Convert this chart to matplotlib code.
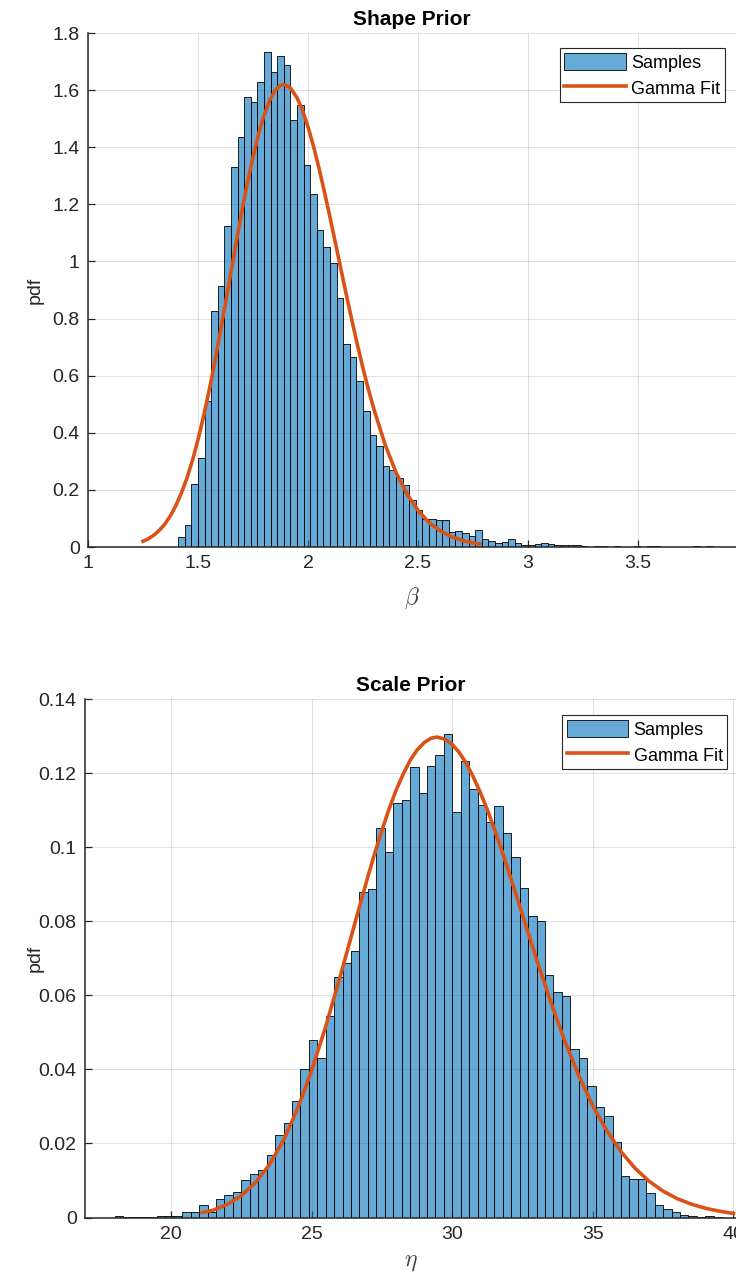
import numpy as np
import matplotlib
matplotlib.use('Agg')
import matplotlib.pyplot as plt
from matplotlib.ticker import FuncFormatter

plt.rcParams['font.family'] = ['Liberation Sans', 'DejaVu Sans']
plt.rcParams['mathtext.fontset'] = 'cm'

# Shape prior histogram (bin width 0.03, first edge 1.41)
shape_first_edge = 1.41
shape_bin_width = 0.03
shape_pdf = [0.034, 0.078, 0.220, 0.312, 0.510, 0.826, 0.914, 1.125, 1.331, 1.435,
             1.575, 1.558, 1.630, 1.735, 1.663, 1.720, 1.688, 1.494, 1.548, 1.338,
             1.236, 1.111, 1.050, 0.994, 0.873, 0.710, 0.664, 0.580, 0.475, 0.393,
             0.355, 0.285, 0.269, 0.242, 0.218, 0.165, 0.131, 0.099, 0.097, 0.093,
             0.093, 0.051, 0.055, 0.050, 0.040, 0.061, 0.029, 0.021, 0.015, 0.019,
             0.028, 0.014, 0.006, 0.007, 0.009, 0.013, 0.009, 0.006, 0.006, 0.008,
             0.008, 0.002, 0.001, 0.005, 0.002, 0.001, 0.002, 0.001, 0.001, 0.002,
             0.001, 0.005, 0.002, 0.001, 0.001, 0.001, 0.001, 0.001, 0.002, 0.001,
             0.002]

# Gamma fit curve for the shape
shape_fit_x = [1.25, 1.275, 1.30, 1.325, 1.35, 1.375, 1.40, 1.425, 1.45, 1.475,
               1.50, 1.525, 1.55, 1.575, 1.60, 1.625, 1.65, 1.675, 1.70, 1.725,
               1.75, 1.775, 1.80, 1.825, 1.85, 1.87, 1.89, 1.92, 1.95, 1.975,
               2.00, 2.025, 2.05, 2.075, 2.10, 2.125, 2.15, 2.175, 2.20, 2.225,
               2.25, 2.275, 2.30, 2.35, 2.40, 2.45, 2.50, 2.55, 2.60, 2.65,
               2.70, 2.75, 2.78]
shape_fit_y = [0.020, 0.029, 0.042, 0.059, 0.081, 0.110, 0.146, 0.190, 0.242, 0.304,
               0.376, 0.457, 0.546, 0.643, 0.748, 0.854, 0.964, 1.071, 1.178, 1.276,
               1.366, 1.446, 1.512, 1.563, 1.598, 1.615, 1.620, 1.608, 1.573, 1.529,
               1.471, 1.403, 1.326, 1.242, 1.154, 1.063, 0.971, 0.880, 0.792, 0.706,
               0.625, 0.550, 0.481, 0.359, 0.261, 0.185, 0.128, 0.086, 0.057, 0.037,
               0.023, 0.014, 0.011]

# Scale prior histogram (bin width 0.3, first edge 18.0)
scale_first_edge = 18.0
scale_bin_width = 0.3
scale_pdf = [0.0004, 0.0001, 0.0001, 0.0001, 0.0001, 0.0004, 0.0005, 0.0005, 0.0014, 0.0016,
             0.0035, 0.0016, 0.0050, 0.0060, 0.0068, 0.0100, 0.0117, 0.0129, 0.0170, 0.0222,
             0.0255, 0.0315, 0.0400, 0.0480, 0.0431, 0.0545, 0.0649, 0.0688, 0.0719, 0.0880,
             0.0887, 0.1051, 0.0987, 0.1120, 0.1127, 0.1217, 0.1147, 0.1219, 0.1249, 0.1305,
             0.1095, 0.1232, 0.1159, 0.1114, 0.1069, 0.1113, 0.1040, 0.0974, 0.0891, 0.0814,
             0.0802, 0.0654, 0.0608, 0.0598, 0.0455, 0.0430, 0.0355, 0.0298, 0.0273, 0.0205,
             0.0112, 0.0104, 0.0104, 0.0065, 0.0035, 0.0022, 0.0015, 0.0008, 0.0004, 0.0001,
             0.0003, 0.0001]

scale_fit_x = [21.1, 21.5, 22.0, 22.5, 23.0, 23.5, 24.0, 24.5, 25.0, 25.5,
               26.0, 26.5, 27.0, 27.25, 27.5, 27.75, 28.0, 28.25, 28.5, 28.75,
               29.0, 29.25, 29.46, 29.75, 30.0, 30.25, 30.5, 30.75, 31.0, 31.25,
               31.5, 31.75, 32.0, 32.5, 33.0, 33.5, 34.0, 34.5, 35.0, 35.5,
               36.0, 36.5, 37.0, 37.5, 38.0, 38.5, 39.0, 39.5, 40.0]
scale_fit_y = [0.0013, 0.0020, 0.0035, 0.0059, 0.0094, 0.0143, 0.0209, 0.0294, 0.0397, 0.0516,
               0.0647, 0.0785, 0.0921, 0.0986, 0.1046, 0.1103, 0.1154, 0.1197, 0.1235, 0.1263,
               0.1283, 0.1295, 0.1298, 0.1292, 0.1278, 0.1256, 0.1227, 0.1190, 0.1148, 0.1101,
               0.1049, 0.0994, 0.0936, 0.0817, 0.0697, 0.0583, 0.0477, 0.0383, 0.0301, 0.0234,
               0.0178, 0.0133, 0.0098, 0.0071, 0.0051, 0.0036, 0.0025, 0.0017, 0.0011]

bar_face = (0.0, 0.447, 0.741, 0.6)
fit_color = '#D95319'
axis_color = '#262626'


def style_axes(ax, xlim, ylim, xticks, yticks):
    ax.set_xlim(*xlim)
    ax.set_ylim(*ylim)
    ax.set_xticks(xticks)
    ax.set_yticks(yticks)
    fmt = FuncFormatter(lambda v, p: '%g' % round(v, 6))
    ax.xaxis.set_major_formatter(fmt)
    ax.yaxis.set_major_formatter(fmt)
    ax.spines['top'].set_visible(False)
    ax.spines['right'].set_visible(False)
    for s in ('left', 'bottom'):
        ax.spines[s].set_color(axis_color)
        ax.spines[s].set_linewidth(1.1)
    ax.tick_params(direction='in', length=5, width=0.9, colors=axis_color,
                   labelsize=14, pad=6)
    ax.grid(True, color=axis_color, alpha=0.15, linewidth=0.7)
    ax.set_axisbelow(True)


def draw_panel(ax, first_edge, width, pdf, fit_x, fit_y, legend_anchor):
    lefts = first_edge + width * np.arange(len(pdf))
    bars = ax.bar(lefts, pdf, width=width, align='edge', color=bar_face,
                  edgecolor='black', linewidth=0.6)
    line, = ax.plot(fit_x, fit_y, color=fit_color, linewidth=2.6)
    leg = ax.legend([bars, line], ['Samples', 'Gamma Fit'], loc='upper right',
                    bbox_to_anchor=legend_anchor, borderaxespad=0,
                    fontsize=13, fancybox=False, framealpha=1, edgecolor=axis_color,
                    handlelength=3.4, handleheight=1.15, borderpad=0.25,
                    labelspacing=0.4, handletextpad=0.3)
    leg.get_frame().set_linewidth(0.8)


fig = plt.figure(figsize=(7.36, 12.8), dpi=100)

ax1 = fig.add_axes([88 / 736, 1 - 547 / 1280, 648 / 736, 514 / 1280])
draw_panel(ax1, shape_first_edge, shape_bin_width, shape_pdf, shape_fit_x, shape_fit_y,
           (0.9826, 0.9708))
style_axes(ax1, (1, 3.945), (0, 1.8), [1, 1.5, 2, 2.5, 3, 3.5],
           np.arange(0, 1.81, 0.2))
ax1.set_title('Shape Prior', fontsize=15, fontweight='bold', pad=6)
ax1.set_xlabel(r'$\beta$', fontsize=17, color='#404040', labelpad=9)
ax1.set_ylabel('pdf', fontsize=14, color=axis_color)
ax1.yaxis.set_label_coords((44 - 88) / 648, 0.5)

ax2 = fig.add_axes([85 / 736, 1 - 1217.5 / 1280, 651 / 736, 518.2 / 1280])
draw_panel(ax2, scale_first_edge, scale_bin_width, scale_pdf, scale_fit_x, scale_fit_y,
           (0.9866, 0.9697))
style_axes(ax2, (16.94, 40.09), (0, 0.14), [20, 25, 30, 35, 40],
           np.arange(0, 0.141, 0.02))
ax2.set_title('Scale Prior', fontsize=15, fontweight='bold', pad=6)
ax2.set_xlabel(r'$\eta$', fontsize=17, color='#404040', labelpad=6)
ax2.set_ylabel('pdf', fontsize=14, color=axis_color)
ax2.yaxis.set_label_coords((44 - 85) / 651, 0.5)

fig.savefig('out.png', dpi=100)
